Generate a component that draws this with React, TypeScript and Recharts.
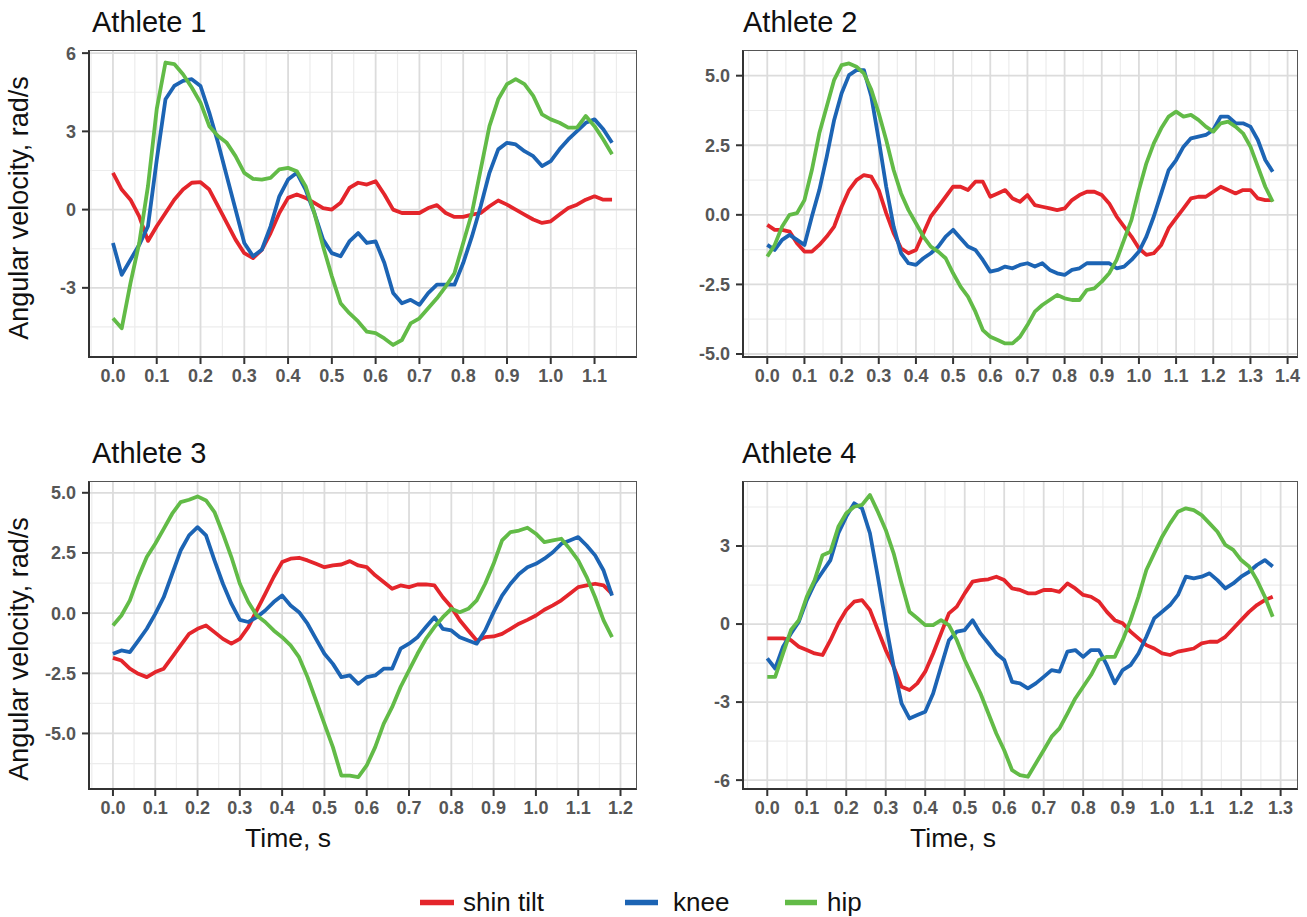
import { LineChart, Line, XAxis, YAxis, CartesianGrid } from "recharts";

// sampling step of every recording, seconds
const TIME_STEP = 0.02;

const SERIES_NAMES = ["shin tilt", "knee", "hip"];
const SERIES_COLORS = ["#e4252b", "#1c64b4", "#62bb47"];

// Athlete 1 (0 – 1.14 s)
const a1Shin = [
  1.41, 0.77, 0.38, -0.26, -1.2, -0.64, -0.13, 0.38, 0.77, 1.03,
  1.05, 0.77, 0.13, -0.51, -1.15, -1.67, -1.86, -1.54, -0.9, -0.13,
  0.45, 0.58, 0.45, 0.26, 0.06, 0, 0.26, 0.83, 1.03, 0.96,
  1.09, 0.58, 0, -0.13, -0.13, -0.13, 0.06, 0.17, -0.13, -0.28,
  -0.28, -0.19, -0.13, 0.13, 0.35, 0.19, 0, -0.19, -0.38, -0.51,
  -0.45, -0.19, 0.06, 0.19, 0.38, 0.51, 0.38, 0.38,
];
const a1Knee = [
  -1.28, -2.5, -1.92, -1.35, -0.64, 1.9, 4.23, 4.74, 4.94, 5.0,
  4.74, 3.72, 2.56, 1.28, 0, -1.28, -1.79, -1.54, -0.64, 0.51,
  1.15, 1.41, 0.77, -0.13, -1.15, -1.67, -1.79, -1.22, -0.9, -1.28,
  -1.22, -2.05, -3.2, -3.59, -3.46, -3.65, -3.2, -2.88, -2.88, -2.88,
  -2.05, -1.03, 0.13, 1.41, 2.31, 2.56, 2.5, 2.24, 2.05, 1.67,
  1.86, 2.31, 2.69, 3.01, 3.33, 3.46, 3.08, 2.56,
];
const a1Hip = [
  -4.17, -4.55, -2.82, -1.28, 0.9, 3.85, 5.64, 5.58, 5.19, 4.68,
  4.1, 3.2, 2.82, 2.56, 2.05, 1.41, 1.18, 1.15, 1.22, 1.54,
  1.6, 1.47, 0.9, -0.13, -1.41, -2.56, -3.59, -3.97, -4.29, -4.68,
  -4.74, -4.94, -5.19, -5.0, -4.36, -4.17, -3.78, -3.4, -2.95, -2.44,
  -1.28, -0.13, 1.54, 3.2, 4.23, 4.81, 5.0, 4.81, 4.36, 3.65,
  3.46, 3.33, 3.14, 3.14, 3.59, 3.2, 2.69, 2.12,
];

// Athlete 2 (0 – 1.36 s)
const a2Shin = [
  -0.36, -0.54, -0.54, -0.6, -1.02, -1.32, -1.32, -1.08, -0.78, -0.42,
  0.29, 0.89, 1.25, 1.43, 1.37, 0.89, 0.06, -0.66, -1.2, -1.38,
  -1.26, -0.66, -0.06, 0.29, 0.65, 1.01, 1.01, 0.89, 1.19, 1.19,
  0.65, 0.77, 0.89, 0.59, 0.47, 0.71, 0.35, 0.29, 0.23, 0.17,
  0.23, 0.53, 0.71, 0.83, 0.83, 0.71, 0.41, -0.06, -0.42, -0.78,
  -1.2, -1.44, -1.38, -1.08, -0.48, -0.12, 0.23, 0.59, 0.65, 0.65,
  0.83, 1.01, 0.89, 0.77, 0.89, 0.89, 0.59, 0.53, 0.53,
];
const a2Knee = [
  -1.08, -1.26, -0.9, -0.72, -0.9, -1.08, -0.06, 0.89, 2.09, 3.41,
  4.37, 5.02, 5.2, 5.2, 4.25, 2.69, 1.01, -0.42, -1.38, -1.74,
  -1.8, -1.56, -1.38, -1.14, -0.78, -0.54, -0.84, -1.14, -1.26, -1.62,
  -2.04, -1.98, -1.86, -1.92, -1.8, -1.74, -1.86, -1.74, -1.98, -2.1,
  -2.16, -1.98, -1.92, -1.74, -1.74, -1.74, -1.74, -1.92, -1.86, -1.62,
  -1.32, -0.78, -0.06, 0.77, 1.61, 1.97, 2.45, 2.75, 2.81, 2.87,
  3.05, 3.53, 3.53, 3.29, 3.29, 3.17, 2.69, 1.97, 1.55,
];
const a2Hip = [
  -1.5, -1.08, -0.42, 0, 0.06, 0.53, 1.61, 2.93, 3.89, 4.85,
  5.38, 5.44, 5.32, 5.08, 4.49, 3.65, 2.69, 1.61, 0.77, 0.17,
  -0.3, -0.78, -1.14, -1.32, -1.56, -2.1, -2.58, -2.94, -3.48, -4.14,
  -4.38, -4.5, -4.62, -4.62, -4.38, -3.96, -3.48, -3.24, -3.06, -2.88,
  -3.0, -3.06, -3.06, -2.7, -2.64, -2.4, -2.1, -1.62, -0.9, -0.18,
  0.89, 1.85, 2.57, 3.11, 3.53, 3.71, 3.53, 3.59, 3.41, 3.17,
  2.99, 3.29, 3.35, 3.17, 2.93, 2.45, 1.73, 1.01, 0.47,
];

// Athlete 3 (0 – 1.18 s)
const a3Shin = [
  -1.86, -1.97, -2.31, -2.52, -2.66, -2.45, -2.31, -1.83, -1.34, -0.86,
  -0.65, -0.51, -0.79, -1.07, -1.27, -1.07, -0.58, 0.11, 0.8, 1.5,
  2.12, 2.26, 2.3, 2.19, 2.05, 1.91, 1.98, 2.02, 2.16, 1.98,
  1.91, 1.57, 1.29, 1.01, 1.15, 1.08, 1.19, 1.19, 1.15, 0.66,
  0.25, -0.3, -0.72, -1.14, -1.0, -0.97, -0.86, -0.65, -0.44, -0.28,
  -0.1, 0.14, 0.32, 0.53, 0.8, 1.08, 1.15, 1.22, 1.15, 0.8,
];
const a3Knee = [
  -1.69, -1.55, -1.62, -1.14, -0.65, -0.03, 0.66, 1.63, 2.6, 3.23,
  3.57, 3.23, 2.19, 1.22, 0.39, -0.28, -0.37, -0.17, 0.11, 0.46,
  0.73, 0.32, 0.04, -0.44, -1.07, -1.69, -2.11, -2.66, -2.59, -2.94,
  -2.66, -2.59, -2.31, -2.31, -1.48, -1.27, -1.0, -0.58, -0.17, -0.65,
  -0.72, -1.0, -1.14, -1.27, -0.72, 0.04, 0.73, 1.22, 1.63, 1.91,
  2.05, 2.26, 2.53, 2.88, 3.02, 3.16, 2.81, 2.4, 1.77, 0.73,
];
const a3Hip = [
  -0.51, -0.1, 0.53, 1.5, 2.33, 2.88, 3.5, 4.13, 4.61, 4.71,
  4.85, 4.68, 4.2, 3.3, 2.33, 1.22, 0.46, -0.1, -0.37, -0.72,
  -1.0, -1.34, -1.83, -2.66, -3.63, -4.6, -5.57, -6.75, -6.75, -6.81,
  -6.33, -5.57, -4.6, -3.91, -3.07, -2.38, -1.69, -1.07, -0.58, -0.17,
  0.18, 0.04, 0.18, 0.53, 1.22, 2.05, 3.02, 3.37, 3.43, 3.55,
  3.3, 2.95, 3.02, 3.09, 2.67, 2.19, 1.5, 0.66, -0.3, -1.0,
];

// Athlete 4 (0 – 1.28 s)
const a4Shin = [
  -0.55, -0.55, -0.55, -0.62, -0.87, -1.0, -1.13, -1.19, -0.62, 0.03,
  0.54, 0.86, 0.92, 0.54, -0.23, -1.0, -1.64, -2.41, -2.54, -2.28,
  -1.83, -1.13, -0.36, 0.41, 0.67, 1.18, 1.63, 1.69, 1.72, 1.82,
  1.69, 1.37, 1.31, 1.18, 1.18, 1.31, 1.31, 1.24, 1.56, 1.37,
  1.12, 1.05, 0.86, 0.47, 0.15, 0.03, -0.29, -0.55, -0.81, -0.94,
  -1.13, -1.19, -1.06, -1.0, -0.94, -0.74, -0.68, -0.68, -0.49, -0.17,
  0.15, 0.47, 0.73, 0.92, 1.05,
];
const a4Knee = [
  -1.32, -1.71, -0.87, -0.36, 0.09, 0.92, 1.56, 2.01, 2.46, 3.49,
  4.13, 4.64, 4.45, 3.49, 1.82, 0.03, -1.64, -3.05, -3.63, -3.5,
  -3.37, -2.67, -1.64, -0.62, -0.29, -0.23, 0.15, -0.36, -0.74, -1.13,
  -1.38, -2.22, -2.28, -2.47, -2.28, -2.03, -1.77, -1.83, -1.06, -1.0,
  -1.26, -1.0, -1.0, -1.58, -2.28, -1.77, -1.58, -1.13, -0.49, 0.22,
  0.47, 0.73, 1.12, 1.82, 1.76, 1.82, 1.95, 1.69, 1.37, 1.56,
  1.82, 2.01, 2.27, 2.46, 2.21,
];
const a4Hip = [
  -2.03, -2.03, -1.13, -0.23, 0.15, 1.05, 1.69, 2.65, 2.78, 3.74,
  4.26, 4.51, 4.58, 4.96, 4.32, 3.62, 2.72, 1.56, 0.47, 0.22,
  -0.04, -0.04, 0.15, -0.04, -0.62, -1.38, -2.03, -2.67, -3.44, -4.21,
  -4.85, -5.62, -5.81, -5.87, -5.36, -4.85, -4.33, -4.01, -3.44, -2.86,
  -2.41, -1.96, -1.38, -1.26, -1.26, -0.62, 0.15, 1.05, 2.08, 2.72,
  3.36, 3.87, 4.32, 4.45, 4.38, 4.19, 3.87, 3.55, 3.04, 2.85,
  2.46, 2.21, 1.69, 1.05, 0.28,
];

// axis ticks
const a1XTicks = [0, 0.1, 0.2, 0.3, 0.4, 0.5, 0.6, 0.7, 0.8, 0.9, 1.0, 1.1];
const a2XTicks = [0, 0.1, 0.2, 0.3, 0.4, 0.5, 0.6, 0.7, 0.8, 0.9, 1.0, 1.1, 1.2, 1.3, 1.4];
const a3XTicks = [0, 0.1, 0.2, 0.3, 0.4, 0.5, 0.6, 0.7, 0.8, 0.9, 1.0, 1.1, 1.2];
const a4XTicks = [0, 0.1, 0.2, 0.3, 0.4, 0.5, 0.6, 0.7, 0.8, 0.9, 1.0, 1.1, 1.2, 1.3];
const a1YTicks = [-3, 0, 3, 6];
const a2YTicks = [-5, -2.5, 0, 2.5, 5];
const a3YTicks = [-5, -2.5, 0, 2.5, 5];
const a4YTicks = [-6, -3, 0, 3];

const FONT = "'Liberation Sans', Arial, Helvetica, sans-serif";

function buildRows(shin: number[], knee: number[], hip: number[]) {
  return shin.map((v, i) => ({
    t: Math.round(i * TIME_STEP * 100) / 100,
    shin: v,
    knee: knee[i],
    hip: hip[i],
  }));
}

// ggplot-style minor breaks: midpoints between majors, kept inside the domain
function minorBreaks(ticks: number[], domain: [number, number]) {
  const step = ticks[1] - ticks[0];
  const out: number[] = [];
  const all = [ticks[0] - step, ...ticks, ticks[ticks.length - 1] + step];
  for (let i = 0; i < all.length - 1; i++) {
    const m = (all[i] + all[i + 1]) / 2;
    if (m > domain[0] && m < domain[1]) out.push(m);
  }
  return out;
}

type PanelCfg = {
  left: number;
  top: number;
  w: number;
  h: number;
  xDomain: [number, number];
  yDomain: [number, number];
  xTicks: number[];
  yTicks: number[];
  yDigits: number;
  rows: ReturnType<typeof buildRows>;
};

const panels: PanelCfg[] = [
  {
    left: 88, top: 50, w: 549, h: 308,
    xDomain: [-0.057, 1.197], yDomain: [-5.69, 6.12],
    xTicks: a1XTicks, yTicks: a1YTicks, yDigits: 0,
    rows: buildRows(a1Shin, a1Knee, a1Hip),
  },
  {
    left: 742, top: 50, w: 556, h: 308,
    xDomain: [-0.068, 1.428], yDomain: [-5.144, 5.923],
    xTicks: a2XTicks, yTicks: a2YTicks, yDigits: 1,
    rows: buildRows(a2Shin, a2Knee, a2Hip),
  },
  {
    left: 88, top: 481, w: 549, h: 309,
    xDomain: [-0.059, 1.239], yDomain: [-7.35, 5.49],
    xTicks: a3XTicks, yTicks: a3YTicks, yDigits: 1,
    rows: buildRows(a3Shin, a3Knee, a3Hip),
  },
  {
    left: 742, top: 481, w: 556, h: 309,
    xDomain: [-0.064, 1.344], yDomain: [-6.38, 5.5],
    xTicks: a4XTicks, yTicks: a4YTicks, yDigits: 0,
    rows: buildRows(a4Shin, a4Knee, a4Hip),
  },
];

const tickText = { fontSize: 18, fontWeight: 700, fill: "#565656", fontFamily: FONT };

function Panel({ cfg }: { cfg: PanelCfg }) {
  const xMinor = minorBreaks(cfg.xTicks, cfg.xDomain);
  const yMinor = minorBreaks(cfg.yTicks, cfg.yDomain);
  return (
    <div style={{ position: "absolute", left: cfg.left - 60, top: cfg.top - 10 }}>
      <LineChart
        width={cfg.w + 70}
        height={cfg.h + 60}
        data={cfg.rows}
        margin={{ top: 10, right: 10, bottom: 0, left: 0 }}
      >
        <CartesianGrid
          verticalValues={xMinor}
          horizontalValues={yMinor}
          stroke="#ececec"
          strokeWidth={1.2}
        />
        <CartesianGrid
          verticalValues={cfg.xTicks}
          horizontalValues={cfg.yTicks}
          stroke="#dcdcdc"
          strokeWidth={1.8}
        />
        <XAxis
          type="number"
          dataKey="t"
          domain={cfg.xDomain}
          ticks={cfg.xTicks}
          allowDataOverflow
          interval={0}
          height={50}
          axisLine={false}
          tickSize={6}
          tickMargin={5}
          tickLine={{ stroke: "#333", strokeWidth: 2 }}
          tick={tickText}
          tickFormatter={(v: number) => v.toFixed(1)}
        />
        <YAxis
          type="number"
          domain={cfg.yDomain}
          ticks={cfg.yTicks}
          allowDataOverflow
          interval={0}
          width={60}
          axisLine={false}
          tickSize={6}
          tickMargin={6}
          tickLine={{ stroke: "#333", strokeWidth: 2 }}
          tick={tickText}
          tickFormatter={(v: number) => v.toFixed(cfg.yDigits)}
        />
        {["shin", "knee", "hip"].map((k, i) => (
          <Line
            key={k}
            type="linear"
            dataKey={k}
            stroke={SERIES_COLORS[i]}
            strokeWidth={3.8}
            strokeLinejoin="round"
            dot={false}
            activeDot={false}
            isAnimationActive={false}
          />
        ))}
      </LineChart>
      <div
        style={{
          position: "absolute",
          left: 60,
          top: 10,
          width: cfg.w,
          height: cfg.h,
          boxSizing: "border-box",
          borderTop: "1.5px solid #555",
          borderRight: "1.5px solid #555",
          borderLeft: "2px solid #333",
          borderBottom: "2px solid #333",
          pointerEvents: "none",
        }}
      />
    </div>
  );
}

const titles = [
  { text: "Athlete 1", x: 92, y: 32 },
  { text: "Athlete 2", x: 743, y: 32 },
  { text: "Athlete 3", x: 92, y: 463 },
  { text: "Athlete 4", x: 742, y: 463 },
];
const legendItems = [
  { x1: 420, x2: 454, tx: 463 },
  { x1: 625, x2: 658, tx: 673 },
  { x1: 785, x2: 817, tx: 827 },
];

export default function App() {
  return (
    <div
      style={{
        position: "absolute",
        left: 0,
        top: 0,
        width: 1307,
        height: 917,
        background: "#fff",
        fontFamily: FONT,
      }}
    >
      {panels.map((p, i) => (
        <Panel key={i} cfg={p} />
      ))}
      <svg
        width={1307}
        height={917}
        style={{ position: "absolute", left: 0, top: 0, pointerEvents: "none" }}
        fontFamily={FONT}
      >
        {titles.map((t) => (
          <text key={t.text} x={t.x} y={t.y} fontSize={29} fill="#111">
            {t.text}
          </text>
        ))}
        <text transform="translate(28,208) rotate(-90)" textAnchor="middle" fontSize={27} fill="#111">
          Angular velocity, rad/s
        </text>
        <text transform="translate(28,649) rotate(-90)" textAnchor="middle" fontSize={27} fill="#111">
          Angular velocity, rad/s
        </text>
        <text x={288} y={847} textAnchor="middle" fontSize={26.5} fill="#111">
          Time, s
        </text>
        <text x={953} y={847} textAnchor="middle" fontSize={26.5} fill="#111">
          Time, s
        </text>
        {legendItems.map((l, i) => (
          <g key={i}>
            <line x1={l.x1} x2={l.x2} y1={902.5} y2={902.5} stroke={SERIES_COLORS[i]} strokeWidth={5.5} />
            <text x={l.tx} y={910.5} fontSize={26} fill="#111">
              {SERIES_NAMES[i]}
            </text>
          </g>
        ))}
      </svg>
    </div>
  );
}
